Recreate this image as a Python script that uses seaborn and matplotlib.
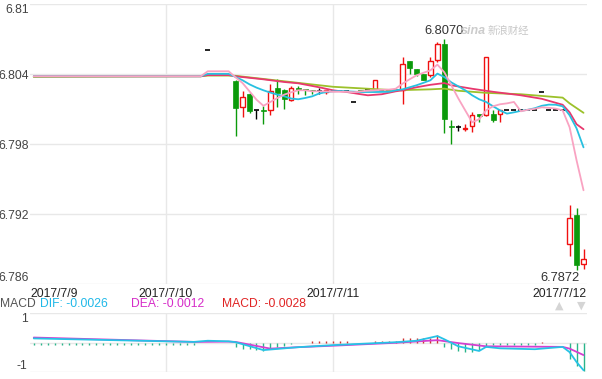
import matplotlib
matplotlib.use("Agg")
import matplotlib.pyplot as plt
import seaborn as sns

# hours counted from 2017/7/10 00:00, one candle per hour
candle_hours = [6, 10, 11, 12, 13, 14, 15, 16, 17, 18, 19, 20, 21, 22, 23, 24, 25, 26, 27, 28,
                29, 30, 31, 32, 33, 34, 35, 36, 37, 38, 39, 40, 41, 42, 43, 44, 45, 46, 47, 48,
                49, 50, 51, 52, 53, 54, 55, 56, 57, 58, 59, 60]
opens = [6.8061, 6.80343, 6.80120, 6.80235, 6.80097, 6.80097, 6.80097, 6.80286, 6.80263, 6.80177,
         6.80283, 6.80277, 6.80269, 6.80257, 6.80248, 6.80257, 6.80257, 6.80257, 6.80163, 6.80269,
         6.80263, 6.80263, 6.80263, 6.80263, 6.80263, 6.80263, 6.80511, 6.80443, 6.80406, 6.80391,
         6.80526, 6.80663, 6.79957, 6.79946, 6.79935, 6.79954, 6.80063, 6.80049, 6.80057, 6.80057,
         6.80097, 6.80097, 6.80097, 6.80097, 6.80097, 6.80246, 6.80097, 6.80097, 6.80097, 6.78943,
         6.79192, 6.78778]
highs = [6.8061, 6.80349, 6.80257, 6.80240, 6.80097, 6.80132, 6.80320, 6.80361, 6.80271, 6.80300,
         6.80300, 6.80277, 6.80269, 6.80283, 6.80263, 6.80257, 6.80257, 6.80257, 6.80163, 6.80269,
         6.80263, 6.80355, 6.80263, 6.80263, 6.80263, 6.80548, 6.80511, 6.80443, 6.80406, 6.80548,
         6.80677, 6.80700, 6.80006, 6.79963, 6.79978, 6.80077, 6.80063, 6.80548, 6.80091, 6.80097,
         6.80097, 6.80097, 6.80097, 6.80097, 6.80097, 6.80246, 6.80097, 6.80097, 6.80097, 6.79283,
         6.79254, 6.78900]
lows = [6.8061, 6.79869, 6.80034, 6.80068, 6.80019, 6.79977, 6.80053, 6.80117, 6.80100, 6.80169,
        6.80235, 6.80226, 6.80235, 6.80229, 6.80235, 6.80257, 6.80257, 6.80257, 6.80163, 6.80254,
        6.80263, 6.80263, 6.80263, 6.80263, 6.80263, 6.80149, 6.80406, 6.80383, 6.80355, 6.80377,
        6.80505, 6.79897, 6.79806, 6.79914, 6.79914, 6.79906, 6.79991, 6.80040, 6.79991, 6.79989,
        6.80097, 6.80097, 6.80097, 6.80097, 6.80097, 6.80246, 6.80097, 6.80097, 6.80097, 6.78843,
        6.78720, 6.78735]
closes = [6.8061, 6.80111, 6.80209, 6.80085, 6.80097, 6.80087, 6.80257, 6.80237, 6.80192, 6.80286,
          6.80269, 6.80263, 6.80254, 6.80257, 6.80263, 6.80257, 6.80257, 6.80257, 6.80163, 6.80254,
          6.80263, 6.80355, 6.80263, 6.80263, 6.80263, 6.80492, 6.80457, 6.80406, 6.80355, 6.80511,
          6.80663, 6.80020, 6.79948, 6.79946, 6.79943, 6.80049, 6.80040, 6.80548, 6.80006, 6.80091,
          6.80097, 6.80097, 6.80097, 6.80097, 6.80097, 6.80246, 6.80097, 6.80097, 6.80097, 6.79169,
          6.78763, 6.78815]

# moving average lines, read at their vertices
ma5_hours = [-19, 5, 6, 9, 10, 11, 12, 13, 14, 15, 16, 17, 18, 19, 20, 21, 22, 23, 24, 25, 26, 27,
             28, 29, 30, 31, 32, 33, 34, 35, 36, 37, 38, 39, 40, 41, 42, 43, 44, 45, 46, 47, 48,
             49, 50, 51, 52, 53, 54, 55, 56, 57, 58, 59, 60]
ma5 = [6.80383, 6.80383, 6.80426, 6.80426, 6.80374, 6.80325, 6.80254, 6.80183, 6.80130, 6.80163,
       6.80197, 6.80226, 6.80246, 6.80263, 6.80263, 6.80254, 6.80254, 6.80254, 6.80250, 6.80250,
       6.80250, 6.80246, 6.80254, 6.80259, 6.80263, 6.80267, 6.80269, 6.80276, 6.80320, 6.80357,
       6.80391, 6.80413, 6.80434, 6.80483, 6.80417, 6.80306, 6.80194, 6.80091, 6.79989, 6.80014,
       6.80091, 6.80126, 6.80143, 6.80151, 6.80163, 6.80083, 6.80096, 6.80104, 6.80117, 6.80113,
       6.80106, 6.80091, 6.79946, 6.79663, 6.79406]
ma10_hours = [-19, 5, 6, 9, 10, 11, 12, 13, 14, 15, 16, 17, 18, 19, 20, 21, 22, 23, 24, 25, 26, 28,
              30, 32, 33, 34, 36, 37, 38, 39, 40, 41, 42, 43, 44, 45, 46, 47, 48, 49, 50, 51, 52,
              53, 54, 55, 56, 57, 58, 59, 60]
ma10 = [6.80383, 6.80383, 6.80404, 6.80404, 6.80377, 6.80349, 6.80314, 6.80286, 6.80263, 6.80243,
        6.80226, 6.80211, 6.80192, 6.80186, 6.80197, 6.80211, 6.80235, 6.80248, 6.80254, 6.80257,
        6.80254, 6.80248, 6.80248, 6.80250, 6.80263, 6.80271, 6.80306, 6.80327, 6.80349, 6.80406,
        6.80376, 6.80331, 6.80297, 6.80263, 6.80220, 6.80186, 6.80163, 6.80126, 6.80091, 6.80063,
        6.80074, 6.80087, 6.80096, 6.80109, 6.80130, 6.80140, 6.80139, 6.80126, 6.80049, 6.79937,
        6.79774]
ma20_hours = [-19, 5, 6, 9, 10, 14, 17, 19, 22, 24, 26, 28, 29, 31, 33, 34, 36, 38, 40, 41, 44, 47,
              51, 54, 57, 58, 59, 60]
ma20 = [6.80383, 6.80383, 6.80393, 6.80393, 6.80383, 6.80357, 6.80334, 6.80323, 6.80289, 6.80263,
        6.80248, 6.80229, 6.80220, 6.80229, 6.80254, 6.80263, 6.80289, 6.80310, 6.80325, 6.80306,
        6.80276, 6.80250, 6.80220, 6.80190, 6.80139, 6.80074, 6.79972, 6.79929]
ma30_hours = [-19, 5, 6, 9, 10, 24, 33, 38, 40, 42, 46, 51, 57, 58, 60]
ma30 = [6.80377, 6.80383, 6.80389, 6.80389, 6.80387, 6.80293, 6.80263, 6.80271, 6.80277, 6.80259,
        6.80241, 6.80229, 6.80200, 6.80151, 6.80070]

# MACD panel
hist_hours = list(range(-19, 61))
hist = ([-0.09] * 24 + [0.0] * 5
        + [-0.15, -0.21, -0.23, -0.26, -0.29, -0.23, -0.15, -0.11, -0.06]
        + [0.0, 0.0] + [0.04] * 6 + [0.0] * 3 + [0.04] * 4
        + [0.14, 0.17, 0.16, 0.14, 0.17, 0.25]
        + [-0.15, -0.23, -0.29, -0.32, -0.32, -0.26, -0.15]
        + [-0.09] * 7 + [0.03] + [-0.03] * 3 + [-0.55, -0.81, -0.97])
dif_hours = [-19, 4, 6, 9, 10, 14, 19, 24, 33, 36, 39, 40, 42, 45, 46, 48, 53, 57, 58, 59, 60]
dif = [0.14, 0.02, 0.06, 0.04, 0.01, -0.26, -0.16, -0.09, 0.01, 0.06, 0.22, 0.11, -0.13, -0.29,
       -0.15, -0.20, -0.23, -0.15, -0.33, -0.67, -0.95]
dea_hours = [-19, 4, 9, 10, 15, 19, 24, 33, 39, 42, 46, 57, 58, 59, 60]
dea = [0.17, 0.02, 0.03, 0.02, -0.21, -0.16, -0.11, -0.01, 0.08, -0.02, -0.13, -0.15, -0.21,
       -0.32, -0.43]

price_ticks = [6.786, 6.792, 6.798, 6.804, 6.81]
price_labels = ["6.786", "6.792", "6.798", "6.804", "6.81"]
date_pos = [-19.5, 0, 24, 60.5]
date_labels = ["2017/7/9", "2017/7/10", "2017/7/11", "2017/7/12"]

sns.set_style("white")
plt.rcParams['font.family'] = ['Liberation Sans', 'Noto Sans CJK SC', 'DejaVu Sans']
plt.rcParams['font.size'] = 8.7
FS = 8.7

W, H = 602, 379
fig = plt.figure(figsize=(W / 100, H / 100), dpi=100)
ax = fig.add_axes([30.3 / W, (H - 284.3) / H, 556.7 / W, 280 / H])
ax2 = fig.add_axes([30.3 / W, (H - 371.7) / H, 556.7 / W, 58.4 / H])

grid_c = "#e8e8e8"
red, green = "#f01010", "#0b9a0b"

for a in (ax, ax2):
    for s in a.spines.values():
        s.set_visible(False)
    a.set_xlim(-19.5, 60.5)
    a.grid(axis="y", color=grid_c, lw=1)
    a.grid(axis="x", visible=False)
    for d in (0, 24):
        a.axvline(d, color=grid_c, lw=1, zorder=0)
    a.tick_params(length=0, colors="#444444")

# candles
bw = 0.72
for h, o, hi, lo, c in zip(candle_hours, opens, highs, lows, closes):
    if c > o:
        col = red
    elif c < o:
        col = green
    else:
        col = "black"
    ax.vlines(h, lo, hi, color=col, lw=1, zorder=2)
    if c == o:
        ax.hlines(o, h - bw / 2, h + bw / 2, color=col, lw=1.2, zorder=2)
    elif c > o:
        ax.bar(h, c - o, bottom=o, width=bw * 0.85, facecolor="white", edgecolor=col, lw=1, zorder=2)
    else:
        ax.bar(h, o - c, bottom=c, width=bw, facecolor=col, edgecolor=col, lw=0.5, zorder=2)

sns.lineplot(x=ma30_hours, y=ma30, ax=ax, color="#9cc12a", lw=1.3, zorder=3)
sns.lineplot(x=ma20_hours, y=ma20, ax=ax, color="#e8386e", lw=1.3, zorder=3)
sns.lineplot(x=ma10_hours, y=ma10, ax=ax, color="#27c0e0", lw=1.3, zorder=3)
sns.lineplot(x=ma5_hours, y=ma5, ax=ax, color="#f9a3c2", lw=1.3, zorder=3)

ax.set_ylim(6.786, 6.81)
ax.set_yticks(price_ticks)
ax.set_yticklabels(price_labels)
ax.tick_params(axis="y", pad=1, labelsize=FS)
ylabs = ax.get_yticklabels()
ylabs[0].set_va("bottom")
ylabs[-1].set_va("top")
ax.set_xticks(date_pos)
ax.set_xticklabels(date_labels, color="#222222")
ax.tick_params(axis="x", pad=3, labelsize=FS)
xlabs = ax.get_xticklabels()
xlabs[0].set_ha("left")
xlabs[-1].set_ha("right")
ax.set_xlabel("")
ax.set_ylabel("")

hi_i = highs.index(max(highs))
ax.annotate(f"{highs[hi_i]:.4f}", xy=(candle_hours[hi_i], highs[hi_i]), xytext=(0, 2),
            textcoords="offset points", ha="center", va="bottom", color="#333333", fontsize=9.3)
lo_i = lows.index(min(lows))
ax.annotate(f"{lows[lo_i]:.4f}", xy=(candle_hours[lo_i], lows[lo_i]), xytext=(2, -1),
            textcoords="offset points", ha="right", va="top", color="#333333", fontsize=9.3)

fig.text(461 / W, 1 - 31 / H, "sina", color="#cccccc", fontsize=9, fontweight="bold",
         style="italic", va="center", ha="left")
fig.text(488 / W, 1 - 31 / H, "新浪财经", color="#c8c8c8", fontsize=7.5, va="center", ha="left")

# MACD
for h, v in zip(hist_hours, hist):
    if v != 0:
        ax2.vlines(h, 0, v, color="#d03030" if v > 0 else "#2ab58a", lw=1, zorder=2)
sns.lineplot(x=dea_hours, y=dea, ax=ax2, color="#d43fd0", lw=1.3, zorder=3)
sns.lineplot(x=dif_hours, y=dif, ax=ax2, color="#26c2e6", lw=1.3, zorder=3)
ax2.set_ylim(-1, 1)
ax2.set_yticks([-1, 0, 1])
ax2.set_yticklabels(["-1", "", "1"])
ax2.tick_params(axis="y", pad=2, labelsize=FS)
mlabs = ax2.get_yticklabels()
mlabs[0].set_va("bottom")
mlabs[-1].set_va("top")
ax2.set_xticks([])
ax2.set_xlabel("")
ax2.set_ylabel("")

ty = 1 - 304 / H
fig.text(0, ty, "MACD", color="#555555", fontsize=FS, va="center")
fig.text(40 / W, ty, "DIF: -0.0026", color="#1fb8e8", fontsize=FS, va="center")
fig.text(131 / W, ty, "DEA: -0.0012", color="#d62cc8", fontsize=FS, va="center")
fig.text(222 / W, ty, "MACD: -0.0028", color="#e02424", fontsize=FS, va="center")
fig.text(559 / W, 1 - 306 / H, "▲", color="#d5d5d5", fontsize=8, va="center", ha="center",
         family="DejaVu Sans")
fig.text(581 / W, 1 - 306 / H, "▼", color="#d5d5d5", fontsize=8, va="center", ha="center",
         family="DejaVu Sans")

fig.savefig("out.png", dpi=100)
